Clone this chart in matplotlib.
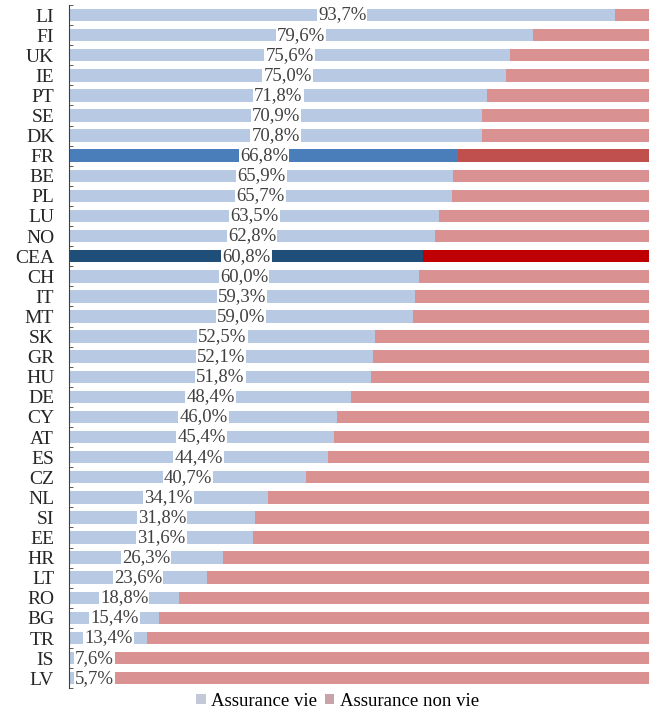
import matplotlib.pyplot as plt
import numpy as np
from matplotlib.patches import Patch

plt.rcParams['font.family'] = ['Liberation Serif', 'DejaVu Serif']

# Share of life insurance in total premiums (%), by country
countries = ["LI", "FI", "UK", "IE", "PT", "SE", "DK", "FR", "BE", "PL", "LU", "NO",
             "CEA", "CH", "IT", "MT", "SK", "GR", "HU", "DE", "CY", "AT", "ES", "CZ",
             "NL", "SI", "EE", "HR", "LT", "RO", "BG", "TR", "IS", "LV"]
vie = [93.7, 79.6, 75.6, 75.0, 71.8, 70.9, 70.8, 66.8, 65.9, 65.7, 63.5, 62.8,
       60.8, 60.0, 59.3, 59.0, 52.5, 52.1, 51.8, 48.4, 46.0, 45.4, 44.4, 40.7,
       34.1, 31.8, 31.6, 26.3, 23.6, 18.8, 15.4, 13.4, 7.6, 5.7]
non_vie = [100 - v for v in vie]

c_vie, c_non = "#b7c9e3", "#d99192"
highlight = {"FR": ("#4a7ebb", "#c0504d"), "CEA": ("#1f4e79", "#c00000")}

fig = plt.figure(figsize=(6.49, 7.11), dpi=100)
ax = fig.add_axes([0.107, 0.032, 0.897, 0.961])

y = np.arange(len(countries))
col_v = [highlight.get(c, (c_vie, c_non))[0] for c in countries]
col_n = [highlight.get(c, (c_vie, c_non))[1] for c in countries]

ax.barh(y, vie, height=0.62, color=col_v, label="Assurance vie")
ax.barh(y, non_vie, left=vie, height=0.62, color=col_n, label="Assurance non vie")

# labels sit in the middle of the life bar, but never cross the axis line
for yi, v in zip(y, vie):
    ax.text(max(v / 2, 4.3), yi, f"{v:.1f}%".replace(".", ","), ha="center",
            va="center", fontsize=13.5, color="#404040",
            bbox=dict(facecolor="white", edgecolor="none", pad=0.8))

ax.set_ylim(len(countries) - 0.5, -0.5)
ax.set_xlim(0, 100)
ax.set_yticks(y)
ax.set_yticklabels(countries, fontsize=14, color="#262626")
ax.tick_params(axis="y", which="major", length=0, pad=11)
ax.set_yticks(np.arange(-0.5, len(countries), 1), minor=True)
ax.tick_params(axis="y", which="minor", length=3, direction="in", color="#404040")
ax.set_xticks([])
for s in ["top", "right", "bottom"]:
    ax.spines[s].set_visible(False)
ax.spines["left"].set_color("#404040")

# legend patches in the original are greyish small squares
handles = [Patch(facecolor="#c3c9d6"), Patch(facecolor="#c9a3aa")]
fig.legend(handles, ["Assurance vie", "Assurance non vie"], loc="lower center",
           bbox_to_anchor=(0.52, -0.022), ncol=2, frameon=False, fontsize=13.5,
           handlelength=0.5, handleheight=0.5, handletextpad=0.3, columnspacing=0.4)

fig.savefig("out.png", dpi=100)
